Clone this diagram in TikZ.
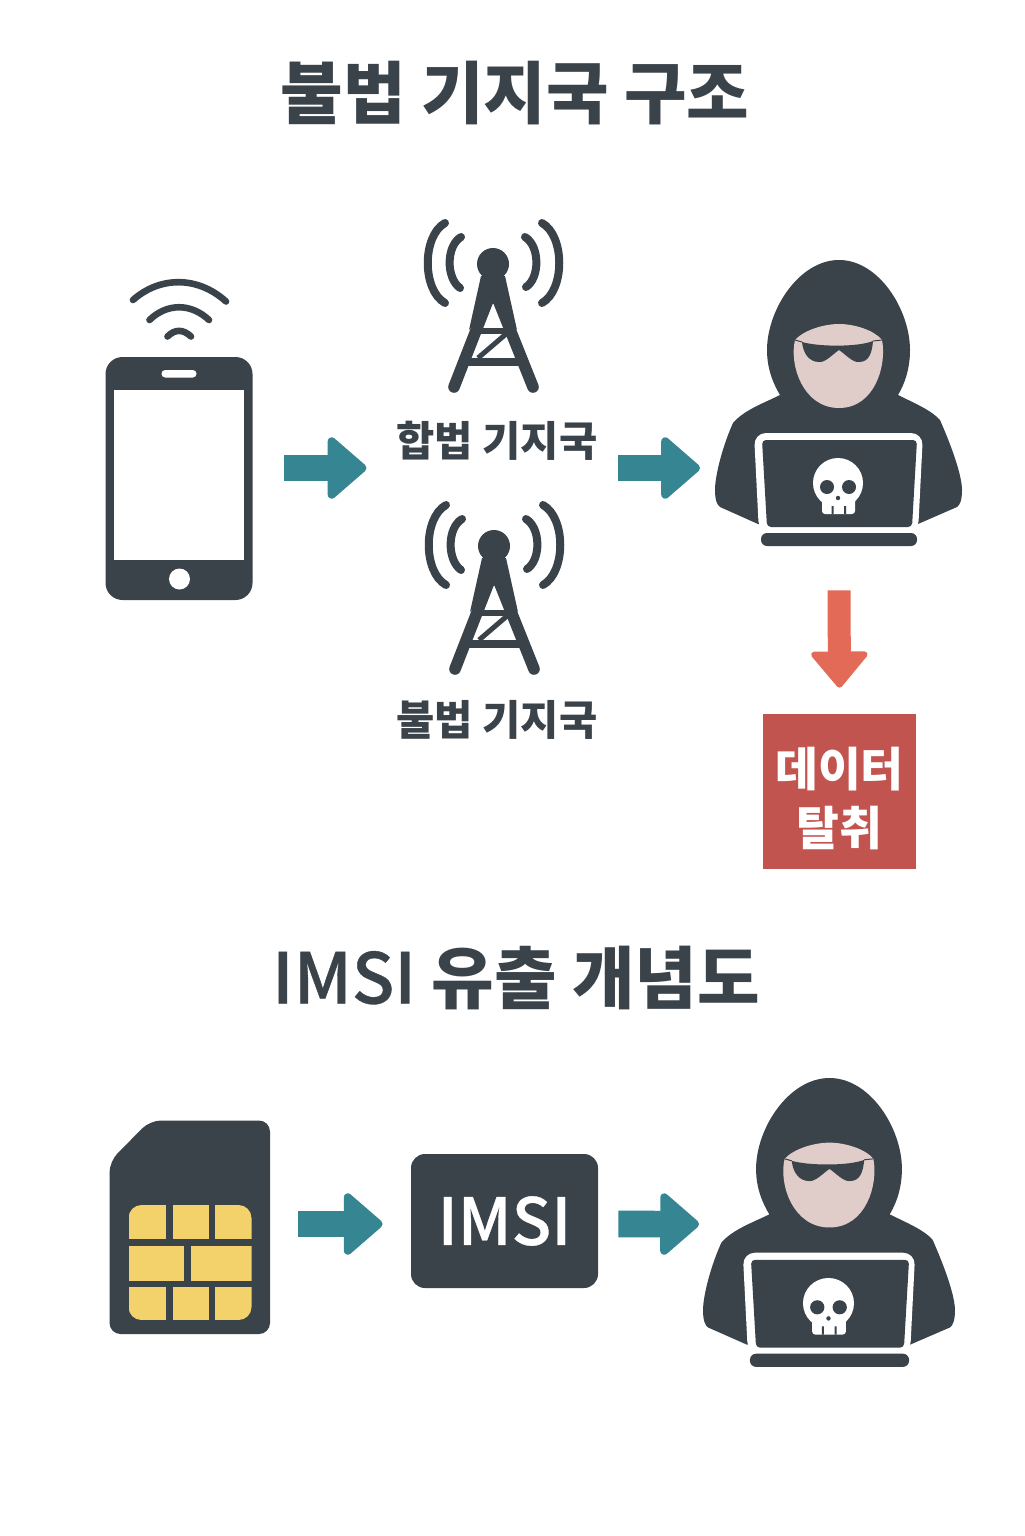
\documentclass[tikz,border=0pt]{standalone}
\usepackage{fontspec}
\setmainfont{Noto Sans CJK KR}
\newfontfamily\latinmed[FakeBold=0.5]{Noto Sans CJK KR Medium}
\usetikzlibrary{arrows.meta}
\definecolor{iconcol}{HTML}{3A424A}
\definecolor{tealcol}{HTML}{368592}
\definecolor{redcol}{HTML}{E36A57}
\definecolor{boxcol}{HTML}{C25450}
\definecolor{facecol}{HTML}{E0CDC9}
\definecolor{chipcol}{HTML}{F4D26B}
\tikzstyle{heading} = [
    text=iconcol,
    font=\fontsize{34}{40}\selectfont\bfseries
]
\tikzstyle{towerlabel} = [
    text=iconcol,
    font=\fontsize{20.8}{26}\selectfont\bfseries
]
\tikzstyle{leakbox} = [
    rectangle,
    minimum width=76.6pt,
    minimum height=77.4pt,
    fill=boxcol,
    text=white,
    align=center,
    inner sep=0pt,
    font=\fontsize{23.3}{29.5}\selectfont\bfseries
]
\tikzstyle{imsibox} = [
    rectangle,
    rounded corners=7pt,
    minimum width=93.5pt,
    minimum height=67pt,
    fill=iconcol,
    text=white,
    font=\fontsize{32.5}{40}\selectfont\latinmed
]
\tikzstyle{phonebody} = [
    rectangle,
    rounded corners=8.5pt,
    minimum width=73.5pt,
    minimum height=121.5pt,
    fill=iconcol
]
\tikzstyle{lapbase} = [
    rectangle,
    rounded corners=3pt,
    minimum width=78pt,
    minimum height=6.5pt,
    inner sep=0pt,
    transform shape,
    fill=iconcol
]
\tikzstyle{tealarrow} = [
    draw=tealcol,
    line width=13.3pt,
    -{Triangle[round,line width=4pt,length=20.5pt,width=34.5pt,fill=tealcol]}
]
\tikzstyle{redarrow} = [
    draw=redcol,
    line width=11.5pt,
    -{Triangle[round,line width=3pt,length=19pt,width=31pt,fill=redcol]}
]
\tikzset{
    tower/.pic={
        \fill [iconcol] (0,0) circle (16);
        \fill [iconcol] (-12,12) -- (-24,66) -- (0,39) -- (24,66) -- (12,12) -- cycle;
        \draw [iconcol, line width=5.8pt, line cap=round] (-39,123) -- (0,23) -- (40,123);
        \draw [iconcol, line width=3pt] (-19,67) -- (19,67);
        \draw [iconcol, line width=4pt] (-30,98) -- (30,98);
        \draw [iconcol, line width=2.5pt] (13,70) -- (-15,94);
        \draw [iconcol, line width=4pt, line cap=round]
            (-48,-41) .. controls (-71,-28) and (-71,26) .. (-48,39)
            (-32,-27) .. controls (-47,-18) and (-47,14) .. (-33,24)
            (49,-41) .. controls (72,-28) and (72,26) .. (49,39)
            (32,-27) .. controls (47,-18) and (47,14) .. (33,23);
    },
    hacker/.pic={
        \fill [iconcol] (0,0) .. controls (-40,0) and (-72,50) .. (-72,90)
            .. controls (-72,110) and (-65,125) .. (-59,135)
            .. controls (-75,143) and (-95,150) .. (-106,163)
            .. controls (-116,185) and (-124,215) .. (-124,230)
            .. controls (-124,240) and (-122,245) .. (-119,247)
            -- (-81,264)
            -- (79,264)
            -- (118,247)
            .. controls (121,245) and (123,240) .. (123,230)
            .. controls (123,215) and (112,185) .. (101,160)
            .. controls (92,150) and (75,143) .. (59,135)
            .. controls (65,125) and (71,110) .. (71,90)
            .. controls (71,50) and (40,0) .. (0,0) -- cycle;
        \fill [facecol] (-44,80) .. controls (-35,70) and (-15,64) .. (0,64)
            .. controls (15,64) and (35,70) .. (43,80)
            .. controls (48,105) and (36,148) .. (0,148)
            .. controls (-36,148) and (-50,105) .. (-44,80) -- cycle;
        \fill [iconcol] (-37,82) .. controls (-20,87) and (20,87) .. (34,81)
            .. controls (33,93) and (30,102) .. (20,102)
            .. controls (14,103) and (6,94) .. (0,90)
            .. controls (-6,94) and (-14,103) .. (-20,102)
            .. controls (-30,102) and (-36,93) .. (-37,82) -- cycle;
        \draw [iconcol, line width=.5pt] (-44,80) -- (-37,82) (34,81) -- (43,80);
        \fill [white, rounded corners=6pt] (-85,173) -- (84,173) -- (79,273) -- (-80,273) -- cycle;
        \fill [iconcol, rounded corners=2pt] (-77,180) -- (78,180) -- (73,267) -- (-72,267) -- cycle;
        \node (-base) [lapbase] at (0,279.5) {};
        \coordinate (-arm) at (-124,208);
        \fill [white] (-1,223) circle (25);
        \fill [white, rounded corners=1.5pt] (-17,235) rectangle (16,254);
        \fill [iconcol] (-12,227) circle (7) (10,227) circle (7) (-1,238) circle (2.2);
        \fill [iconcol] (-7.5,246) rectangle (-5.5,254) (5,246) rectangle (7,254);
    }
}

\begin{document}
\begin{tikzpicture}[x=.5pt,y=-.5pt]
\useasboundingbox (0,0) rectangle (1024,1536);
\fill [white] (0,0) rectangle (1024,1536);

\node (titleA) [heading] at (515,93) {불법 기지국 구조};
\node (titleB) [heading] at (516,978) {{\mdseries\latinmed\fontsize{35}{40}\selectfont IMSI} 유출 개념도};

\node (phone) [phonebody] at (179,478.5) {};
\fill [white] (114,389.5) rectangle (243.5,560);
\fill [white, rounded corners=1.8pt] (161.5,370) rectangle (196.5,377.5);
\fill [white] (179.5,579) circle (10.5);
\draw [iconcol, line width=3.3pt, line cap=round]
    (133,300) .. controls (160,276) and (198,276) .. (226,301.5)
    (149.5,320) .. controls (167,303) and (191,303) .. (209,320)
    (167.5,336.5) .. controls (175,329) and (183,329) .. (191,336.5);

\pic at (493,264) {tower};
\pic at (494,546) {tower};
\node (legal) [towerlabel] at (497,441) {합법 기지국};
\node (rogue) [towerlabel] at (497,720) {불법 기지국};

\pic (hackerA) at (839,260) {hacker};
\node (leak) [leakbox] at (839.5,791.5) {\rule{0pt}{27pt}데이터\\탈취};

\fill [iconcol, rounded corners=5.5pt] (150,1120.5) -- (270,1120.5) -- (270,1334) -- (109.5,1334) -- (109.5,1161.5) -- cycle;
\begin{scope}
\clip [rounded corners=6.5pt] (128.5,1205) rectangle (251.5,1320);
\fill [chipcol] (128.5,1205) rectangle (166,1239);
\fill [chipcol] (172.5,1205) rectangle (208.5,1239);
\fill [chipcol] (215,1205) rectangle (251.5,1239);
\fill [chipcol] (128.5,1245.5) rectangle (184,1280.5);
\fill [chipcol] (191,1245.5) rectangle (251.5,1280.5);
\fill [chipcol] (128.5,1286.5) rectangle (166,1320);
\fill [chipcol] (172.5,1286.5) rectangle (208.5,1320);
\fill [chipcol] (215,1286.5) rectangle (251.5,1320);
\end{scope}
\coordinate (sim) at (270,1224);

\node (imsi) [imsibox] at (504.5,1221) {IMSI};
\pic (hackerB) [xscale=1.02,yscale=1.01] at (829.5,1078) {hacker};

\draw [tealarrow] ([shift={(31,-10.5)}]phone.east) -- ([shift={(-23,27)}]legal.west);
\draw [tealarrow] ([shift={(13,27)}]legal.east) -- ([shift={(-15,0)}]hackerA-arm);
\draw [redarrow] ([yshift=-22pt]hackerA-base.south) -- ([yshift=13pt]leak.north);
\draw [tealarrow] ([xshift=14pt]sim) -- ([shift={(-28,3)}]imsi.west);
\draw [tealarrow] ([shift={(20,3)}]imsi.east) -- ([shift={(-4,-64)}]hackerB-arm);

\end{tikzpicture}
\end{document}
